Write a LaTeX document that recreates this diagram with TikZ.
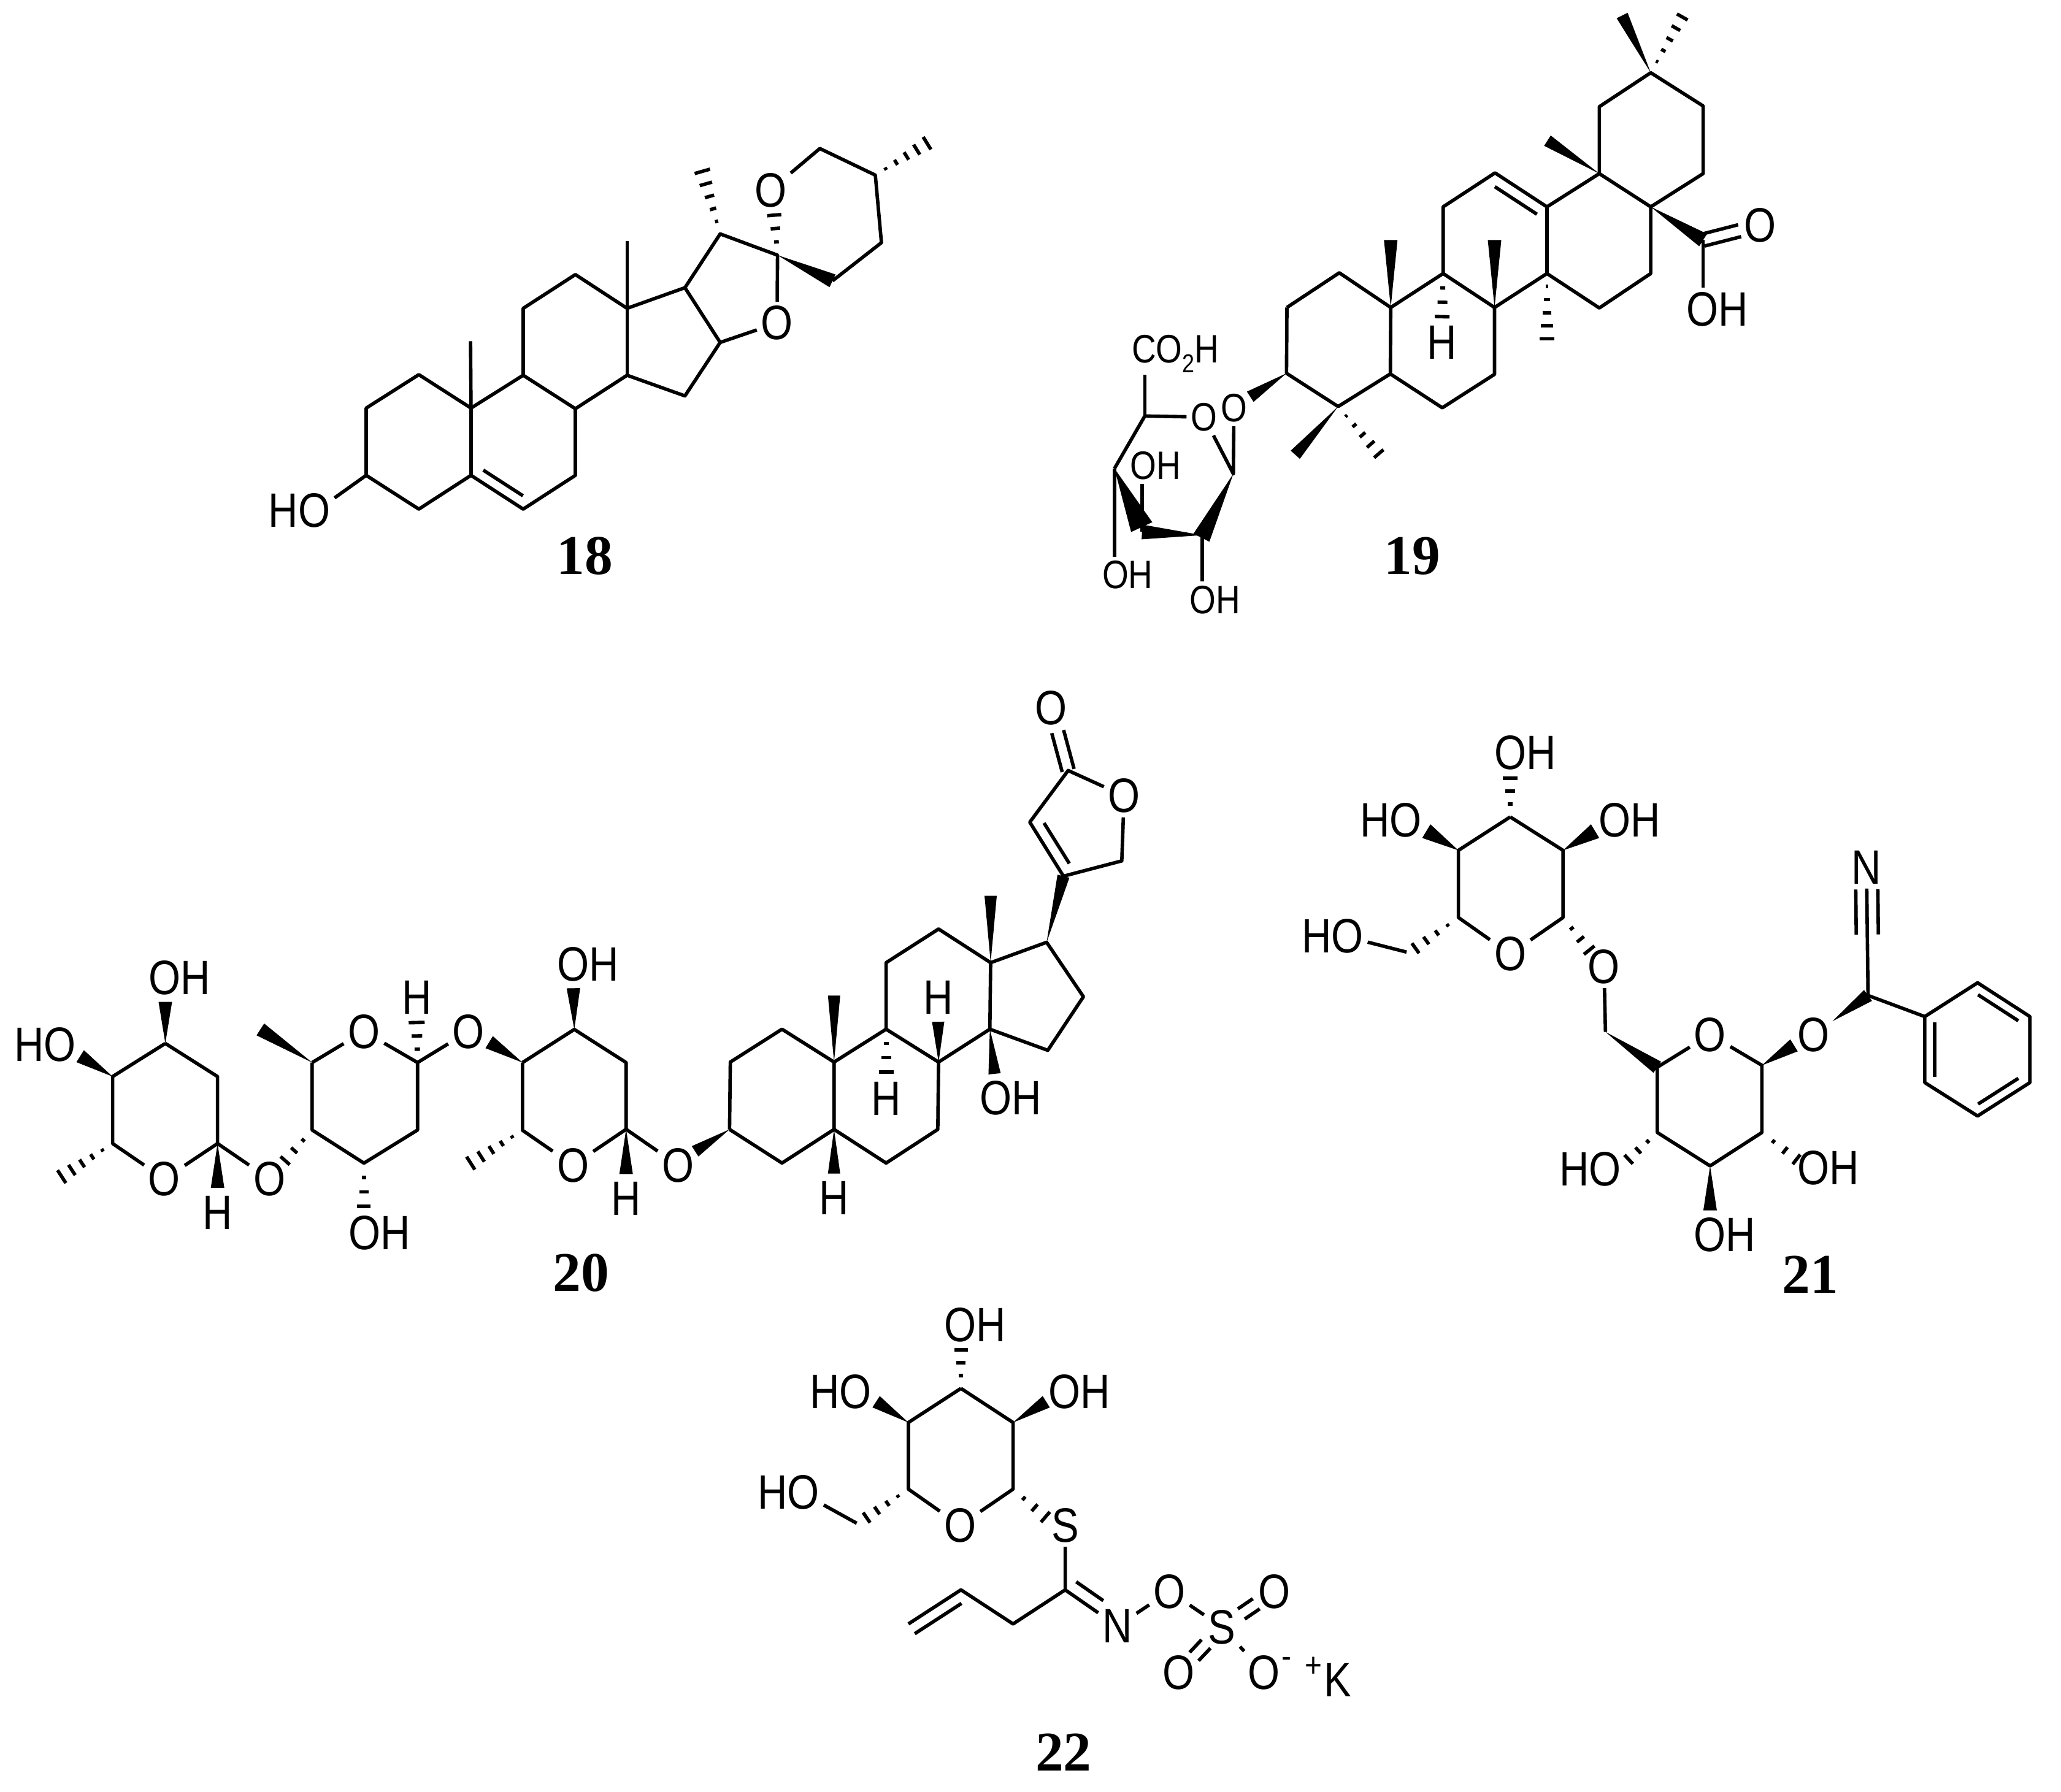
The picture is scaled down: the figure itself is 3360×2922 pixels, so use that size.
\documentclass[tikz,border=0pt]{standalone}
\usepackage{fontspec}
\usetikzlibrary{calc}
\newfontfamily\atomfont{Liberation Sans}[FakeStretch=0.85]
\newfontfamily\tagfont{Liberation Serif}[FakeStretch=1.0]
\def\wedgebond(#1)(#2)(#3){\fill (#1) -- ($(#2)!#3!90:(#1)$) -- ($(#2)!#3!-90:(#1)$) -- cycle;}
\def\hashbond(#1)(#2)(#3:#4){\foreach \k in {1,...,#4}{\pgfmathsetmacro\t{\k/#4}\pgfmathsetmacro\w{\t*#3}\draw ($(#1)!\t!(#2)!\w pt!90:(#1)$) -- ($(#1)!\t!(#2)!\w pt!-90:(#1)$);}}
\def\innerbond(#1)(#2)(#3:#4:#5){\draw ($(#1)!#4!(#2)!#3!90:(#2)$) -- ($(#2)!#5!(#1)!#3!-90:(#1)$);}
\def\dblbond(#1)(#2)(#3:#4){\draw[shorten <=#3,shorten >=#4] ($(#1)!0.1cm!90:(#2)$) -- ($(#2)!0.1cm!-90:(#1)$);\draw[shorten <=#3,shorten >=#4] ($(#1)!0.1cm!-90:(#2)$) -- ($(#2)!0.1cm!90:(#1)$);}
\tikzset{
	atom/.style={font=\atomfont\fontsize{22.4}{26}\selectfont,inner sep=1.2pt},
	atomsm/.style={font=\atomfont\fontsize{18.4}{22}\selectfont,inner sep=1.2pt},
	atomch/.style={font=\atomfont\fontsize{16}{18}\selectfont,inner sep=0pt},
	tag/.style={font=\tagfont\bfseries\fontsize{26}{30}\selectfont,inner sep=0pt},
	mola/.style={shift={(400,180)},x=0.007653cm,y=-0.005102cm},
	molb/.style={shift={(1720,0)},x=0.007908cm,y=-0.003954cm},
	molc/.style={shift={(1720,500)},x=0.005102cm,y=-0.003444cm},
	mold/.style={shift={(0,1500)},x=0.007334cm,y=-0.004145cm},
	mole/.style={shift={(1100,1100)},x=0.006378cm,y=-0.006378cm},
	molf/.style={shift={(2100,1180)},x=0.008036cm,y=-0.00625cm},
	molg/.style={shift={(1200,2130)},x=0.007015cm,y=-0.005051cm}
}
\begin{document}
\begin{tikzpicture}[x=0.01cm,y=-0.01cm,line width=1.6pt,line join=round]
	%%%%% START %%%%%
	\fill[white] (0,0) rectangle (3360,2922);
	\useasboundingbox (0,0) rectangle (3360,2922);

	% 18
	\begin{scope}[mola]
		\foreach \n/\x/\y in {a1/369/845,a2/257/952,a3/257/1167,a4/369/1275,a5/480/1167,a6/591/1275,a7/702/1167,a8/702/954,a9/591/847,a10/480/952,a11/591/633,a12/702/525,a13/812/633,a14/812/847,a15/935/913,a16/1010/742,a17/935/567,a18/479/738,a19/812/418,a20/1010/395,a21/1132/463,a22/1249/545,a23/1353/423,a24/1340/207,a25/1222/122,a26/972/195,a27/1125/335,a28/1450/105}
			\coordinate (\n) at (\x,\y);
		\node[atom] (aho) at (115,1280) {HO};
		\node[atom] (ao1) at (1131,680) {O};
		\node[atom] (ao2) at (1117,255) {O};
		\node[tag] (atag) at (722,1425) {18};
		\draw (a3) -- (a2) -- (a1) -- (a10) -- (a9) -- (a8) -- (a14) -- (a15) -- (a16) -- (a17) -- (a13) -- (a12) -- (a11) -- (a9);
		\draw (a3) -- (a4) -- (a5) -- (a6) -- (a7) -- (a8);
		\draw (a10) -- (a5);
		\draw (a10) -- (a18);
		\draw (a13) -- (a14);
		\draw (a13) -- (a19);
		\draw (a17) -- (a20) -- (a21) -- (ao1) -- (a16);
		\draw (a22) -- (a23) -- (a24) -- (a25) -- (ao2);
		\draw (a3) -- (aho.20);
		\innerbond(a5)(a6)(0.18cm:0.12:0.12);
		\wedgebond(a21)(a22)(0.115cm);
		\hashbond(a20)(a26)(0.13cm:5);
		\hashbond(a21)(a27)(0.115cm:3);
		\hashbond(a24)(a28)(0.12cm:5);
	\end{scope}

	% 19
	\begin{scope}[molb]
		\foreach \n/\x/\y in {b1/478/1268,b2/586/1125,b3/692/1268,b4/800/1128,b5/906/1268,b6/1014/1128,b7/1122/1270,b8/1228/1128,b9/1228/853,b10/1014/853,b11/907/713,b12/800/853,b13/1122/716,b14/1122/440,b15/1228/300,b16/1336/437,b17/1336/716,b18/1336/990,b19/692/990,b20/906/990,b21/1014/1397,b22/1015/580,b23/1169/64,b24/1293/70,b25/798/1306}
			\coordinate (\n) at (\x,\y);
		\node[atom] (bh) at (798,1412) {H};
		\node[atom] (boh) at (1365,1275) {OH};
		\node[atom] (bo1) at (1453,930) {O};
		\draw (b1) -- (b2) -- (b3) -- (b4) -- (b5) -- (b6) -- (b7) -- (b8) -- (b9) -- (b13) -- (b10) -- (b11) -- (b12) -- (b4);
		\draw (b6) -- (b10);
		\draw (b13) -- (b14) -- (b15) -- (b16) -- (b17) -- (b9);
		\draw (b18) -- (b18 |- boh.north);
		\innerbond(b11)(b10)(-0.19cm:0.12:0.07);
		\dblbond(b18)(bo1)(0pt:0.34cm);
		\wedgebond(b3)(b19)(0.11cm);
		\wedgebond(b5)(b20)(0.11cm);
		\wedgebond(b13)(b22)(0.1cm);
		\wedgebond(b15)(b23)(0.1cm);
		\wedgebond(b9)(b18)(0.12cm);
		\hashbond(b6)(b21)(0.12cm:5);
		\hashbond(b15)(b24)(0.1cm:5);
		\hashbond(b4)(b25)(0.12cm:3);
	\end{scope}
	\begin{scope}[molc]
		\foreach \n/\x/\y in {c1/740/315,c2/905/472,c3/1072/318,c4/1238/478,c5/1405/320,c6/768/700,c7/1035/695,c8/624/426,c9/287/517,c10/190/765,c11/278/1065,c12/470/1080,c13/570/790,c14/277/1042,c15/468/1092}
			\coordinate (\n) at (\x,\y);
		\node[atomsm] (co1) at (572,478) {O};
		\node[atomsm] (co2) at (476,522) {O};
		\node[atomsm,inner sep=0pt] (cco) at (385,224) {CO\raisebox{-0.25em}{\fontsize{12}{13}\selectfont 2}H};
		\node[atomsm] (coh1) at (322,752) {OH};
		\node[atomsm] (coh2) at (232,1268) {OH};
		\node[atomsm] (coh3) at (512,1385) {OH};
		\node[tag] (btag) at (1142,1180) {19};
		\draw (b1) -- (c1) -- (c2) -- (c3) -- (c4) -- (c5) -- (b5);
		\draw (b3) -- (c3);
		\draw (co2) -- (c9) -- (c10);
		\draw (co2) -- (c13) -- (co1);
		\draw (c9) -- (c9 |- cco.south);
		\draw (c10) -- (c10 |- coh2.north);
		\draw (c11) -- (c11 |- coh1.south);
		\draw (c12) -- (c12 |- coh3.north);
		\wedgebond(c1)(c8)(0.1cm);
		\wedgebond(c2)(c6)(0.1cm);
		\hashbond(c2)(c7)(0.1cm:5);
		\wedgebond(c10)(c14)(0.19cm);
		\wedgebond(c12)(c11)(0.12cm);
		\wedgebond(c13)(c15)(0.145cm);
	\end{scope}

	% 20
	\begin{scope}[mold]
		\foreach \n/\x/\y in {d1/250/615,d2/367/485,d3/483/615,d4/483/878,d5/250/878,d6/137/1008,d7/367/322,d8/178/535,d9/483/1052,d10/693/560,d11/927/560,d12/927/825,d13/808/955,d14/693/825,d15/578/430,d16/633/945,d17/925/403,d18/808/1125,d19/1160/560,d20/1275/430,d21/1390/560,d22/1390/822,d23/1160/826,d24/1045/955,d25/1273/268,d26/1086/480,d27/1390/998}
			\coordinate (\n) at (\x,\y);
		\node[atom] (doa) at (365,1017) {O};
		\node[atom] (dob) at (598,1017) {O};
		\node[atom] (doc) at (808,438) {O};
		\node[atom] (dod) at (1040,438) {O};
		\node[atom] (doe) at (1272,963) {O};
		\node[atom] (dof) at (1505,963) {O};
		\node[atom] (dha) at (483,1150) {H};
		\node[atom] (dhb) at (925,305) {H};
		\node[atom] (dhc) at (1390,1095) {H};
		\node[atom] (doha) at (398,228) {OH};
		\node[atom] (dho) at (100,490) {HO};
		\node[atom] (dohb) at (842,1228) {OH};
		\node[atom] (dohc) at (1305,175) {OH};
		\node[tag] (dtag) at (1290,1385) {20};
		\draw (d2) -- (d1) -- (d5) -- (doa) -- (d4) -- (d3) -- (d2);
		\draw (d4) -- (dob);
		\draw (d10) -- (d14) -- (d13) -- (d12) -- (d11) -- (doc) -- (d10);
		\draw (d11) -- (dod);
		\draw (d19) -- (d23) -- (doe) -- (d22) -- (d21) -- (d20) -- (d19);
		\draw (d22) -- (dof);
		\wedgebond(d2)(d7)(0.11cm);
		\wedgebond(d1)(d8)(0.115cm);
		\wedgebond(d4)(d9)(0.11cm);
		\wedgebond(d10)(d15)(0.115cm);
		\wedgebond(d19)(d26)(0.115cm);
		\wedgebond(d20)(d25)(0.11cm);
		\wedgebond(d22)(d27)(0.11cm);
		\hashbond(d5)(d6)(0.125cm:5);
		\hashbond(d14)(d16)(0.1cm:3);
		\hashbond(d11)(d17)(0.13cm:3);
		\hashbond(d13)(d18)(0.11cm:3);
		\hashbond(d23)(d24)(0.125cm:5);
	\end{scope}
	\begin{scope}[mole]
		\foreach \n/\x/\y in {e1/274/906,e2/142/990,e3/140/1162,e4/274/1248,e5/407/1162,e6/540/1248,e7/672/1162,e8/674/990,e9/540/906,e10/407/990,e11/540/736,e12/674/650,e13/807/736,e14/805/906,e15/953/960,e16/1044/823,e17/950/684,e18/993/515,e19/1142/476,e20/1005/245,e21/907/377,e22/407/820,e23/807/565,e24/407/1275,e25/673/887,e26/540/1015,e27/817/1020,e28/52/1218}
			\coordinate (\n) at (\x,\y);
		\node[atom] (eha) at (407,1338) {H};
		\node[atom] (ehb) at (673,825) {H};
		\node[atom] (ehc) at (540,1083) {H};
		\node[atom] (eoh) at (858,1082) {OH};
		\node[atom] (eo1) at (1148,310) {O};
		\node[atom] (eo2) at (962,85) {O};
		\draw (e3) -- (e2) -- (e1) -- (e10) -- (e5) -- (e4) -- (e3);
		\draw (e5) -- (e6) -- (e7) -- (e8) -- (e9) -- (e10);
		\draw (e9) -- (e11) -- (e12) -- (e13) -- (e14) -- (e8);
		\draw (e14) -- (e15) -- (e16) -- (e17) -- (e13);
		\draw (e18) -- (e19) -- (eo1) -- (e20) -- (e21) -- (e18);
		\innerbond(e21)(e18)(0.19cm:0.13:0.12);
		\dblbond(e20)(eo2)(0pt:0.4cm);
		\wedgebond(e17)(e18)(0.1cm);
		\wedgebond(e10)(e22)(0.1cm);
		\wedgebond(e13)(e23)(0.1cm);
		\wedgebond(e5)(e24)(0.1cm);
		\wedgebond(e8)(e25)(0.1cm);
		\wedgebond(e14)(e27)(0.1cm);
		\wedgebond(e3)(e28)(0.1cm);
		\hashbond(e9)(e26)(0.12cm:3);
	\end{scope}

	% 21
	\begin{scope}[molf]
		\foreach \n/\x/\y in {f1/450/243,f2/557/330,f3/557/505,f4/345/505,f5/345/330,f6/450/142,f7/622/280,f8/280/280,f9/240/595,f10/610/590,f11/643/803,f12/748/895,f13/960/890,f14/960/1065,f15/855/1152,f16/748/1065,f18/1025/838,f19/1175/708,f20/1103/775,f22/1290/763,f23/1397/675,f24/1503/763,f25/1503/935,f26/1397/1022,f27/1290/935,f28/690/1135,f29/1030/1135,f30/855/1268,f31/258/585}
			\coordinate (\n) at (\x,\y);
		\node[atom] (foh1) at (480,75) {OH};
		\node[atom] (fho1) at (208,252) {HO};
		\node[atom] (foh2) at (692,252) {OH};
		\node[atom] (fho2) at (90,553) {HO};
		\node[atom] (fo1) at (450,600) {O};
		\node[atom] (fo2) at (640,633) {O};
		\node[atom] (fo3) at (855,810) {O};
		\node[atom] (fo4) at (1065,810) {O};
		\node[atom] (fn) at (1172,375) {N};
		\node[atom] (fho3) at (612,1160) {HO};
		\node[atom] (foh3) at (1095,1158) {OH};
		\node[atom] (foh4) at (885,1332) {OH};
		\node[tag] (ftag) at (1058,1435) {21};
		\draw (f1) -- (f2) -- (f3) -- (fo1) -- (f4) -- (f5) -- (f1);
		\draw (f9) -- (fho2.-10);
		\draw (fo2) -- (f11);
		\draw (f12) -- (fo3) -- (f13) -- (f14) -- (f15) -- (f16) -- (f12);
		\draw (f19) -- (f22) -- (f23) -- (f24) -- (f25) -- (f26) -- (f27) -- (f22);
		\draw (f19) -- (fn);
		\innerbond(f19)(fn)(0.18cm:0.477:0.17);
		\innerbond(f19)(fn)(-0.18cm:0.477:0.17);
		\innerbond(f23)(f24)(-0.16cm:0.11:0.12);
		\innerbond(f25)(f26)(-0.16cm:0.12:0.11);
		\innerbond(f27)(f22)(-0.16cm:0.09:0.09);
		\wedgebond(f2)(f7)(0.13cm);
		\wedgebond(f5)(f8)(0.13cm);
		\wedgebond(f11)(f12)(0.11cm);
		\wedgebond(f13)(f18)(0.115cm);
		\wedgebond(f20)(f19)(0.11cm);
		\wedgebond(f15)(f30)(0.11cm);
		\hashbond(f1)(f6)(0.12cm:3);
		\hashbond(f3)(f10)(0.11cm:3);
		\hashbond(f4)(f31)(0.1cm:4);
		\hashbond(f16)(f28)(0.1cm:3);
		\hashbond(f14)(f29)(0.1cm:3);
	\end{scope}

	% 22
	\begin{scope}[molg]
		\foreach \n/\x/\y in {g1/522/265,g2/643/375,g3/643/590,g4/400/590,g5/400/375,g6/522/140,g7/720/308,g8/325/308,g9/280/700,g10/303/682,g11/718/680,g12/764/915,g13/643/1025,g14/522/915,g15/400/1025}
			\coordinate (\n) at (\x,\y);
		\node[atom] (goh1) at (555,60) {OH};
		\node[atom] (gho1) at (243,275) {HO};
		\node[atom] (goh2) at (797,275) {OH};
		\node[atom] (gho2) at (122,600) {HO};
		\node[atom] (go1) at (520,707) {O};
		\node[atom] (gs1) at (764,707) {S};
		\node[atom] (gn) at (885,1032) {N};
		\node[atom] (go2) at (1006,920) {O};
		\node[atom] (gs2) at (1128,1035) {S};
		\node[atom] (go3) at (1250,920) {O};
		\node[atom] (go4) at (1028,1182) {O};
		\node[atom] (go5) at (1225,1182) {O};
		\node[atomch] (gminus) at (1278,1150) {-};
		\node[atomch] (gplus) at (1340,1165) {+};
		\node[atom] (gk) at (1397,1205) {K};
		\node[tag] (gtag) at (760,1440) {22};
		\draw (g1) -- (g2) -- (g3) -- (go1) -- (g4) -- (g5) -- (g1);
		\draw (g9) -- (gho2.-20);
		\draw (gs1) -- (g12) -- (gn) -- (go2) -- (gs2) -- (go5);
		\draw (g12) -- (g13) -- (g14) -- (g15);
		\innerbond(g12)(gn)(0.21cm:0.07:0.41);
		\innerbond(g15)(g14)(-0.19cm:0:0.11);
		\dblbond(gs2)(go3)(0.38cm:0.36cm);
		\dblbond(gs2)(go4)(0.38cm:0.36cm);
		\wedgebond(g2)(g7)(0.11cm);
		\wedgebond(g5)(g8)(0.11cm);
		\hashbond(g1)(g6)(0.11cm:3);
		\hashbond(g3)(g11)(0.11cm:3);
		\hashbond(g4)(g10)(0.1cm:4);
	\end{scope}
	%%%%% END %%%%%
\end{tikzpicture}
\end{document}
